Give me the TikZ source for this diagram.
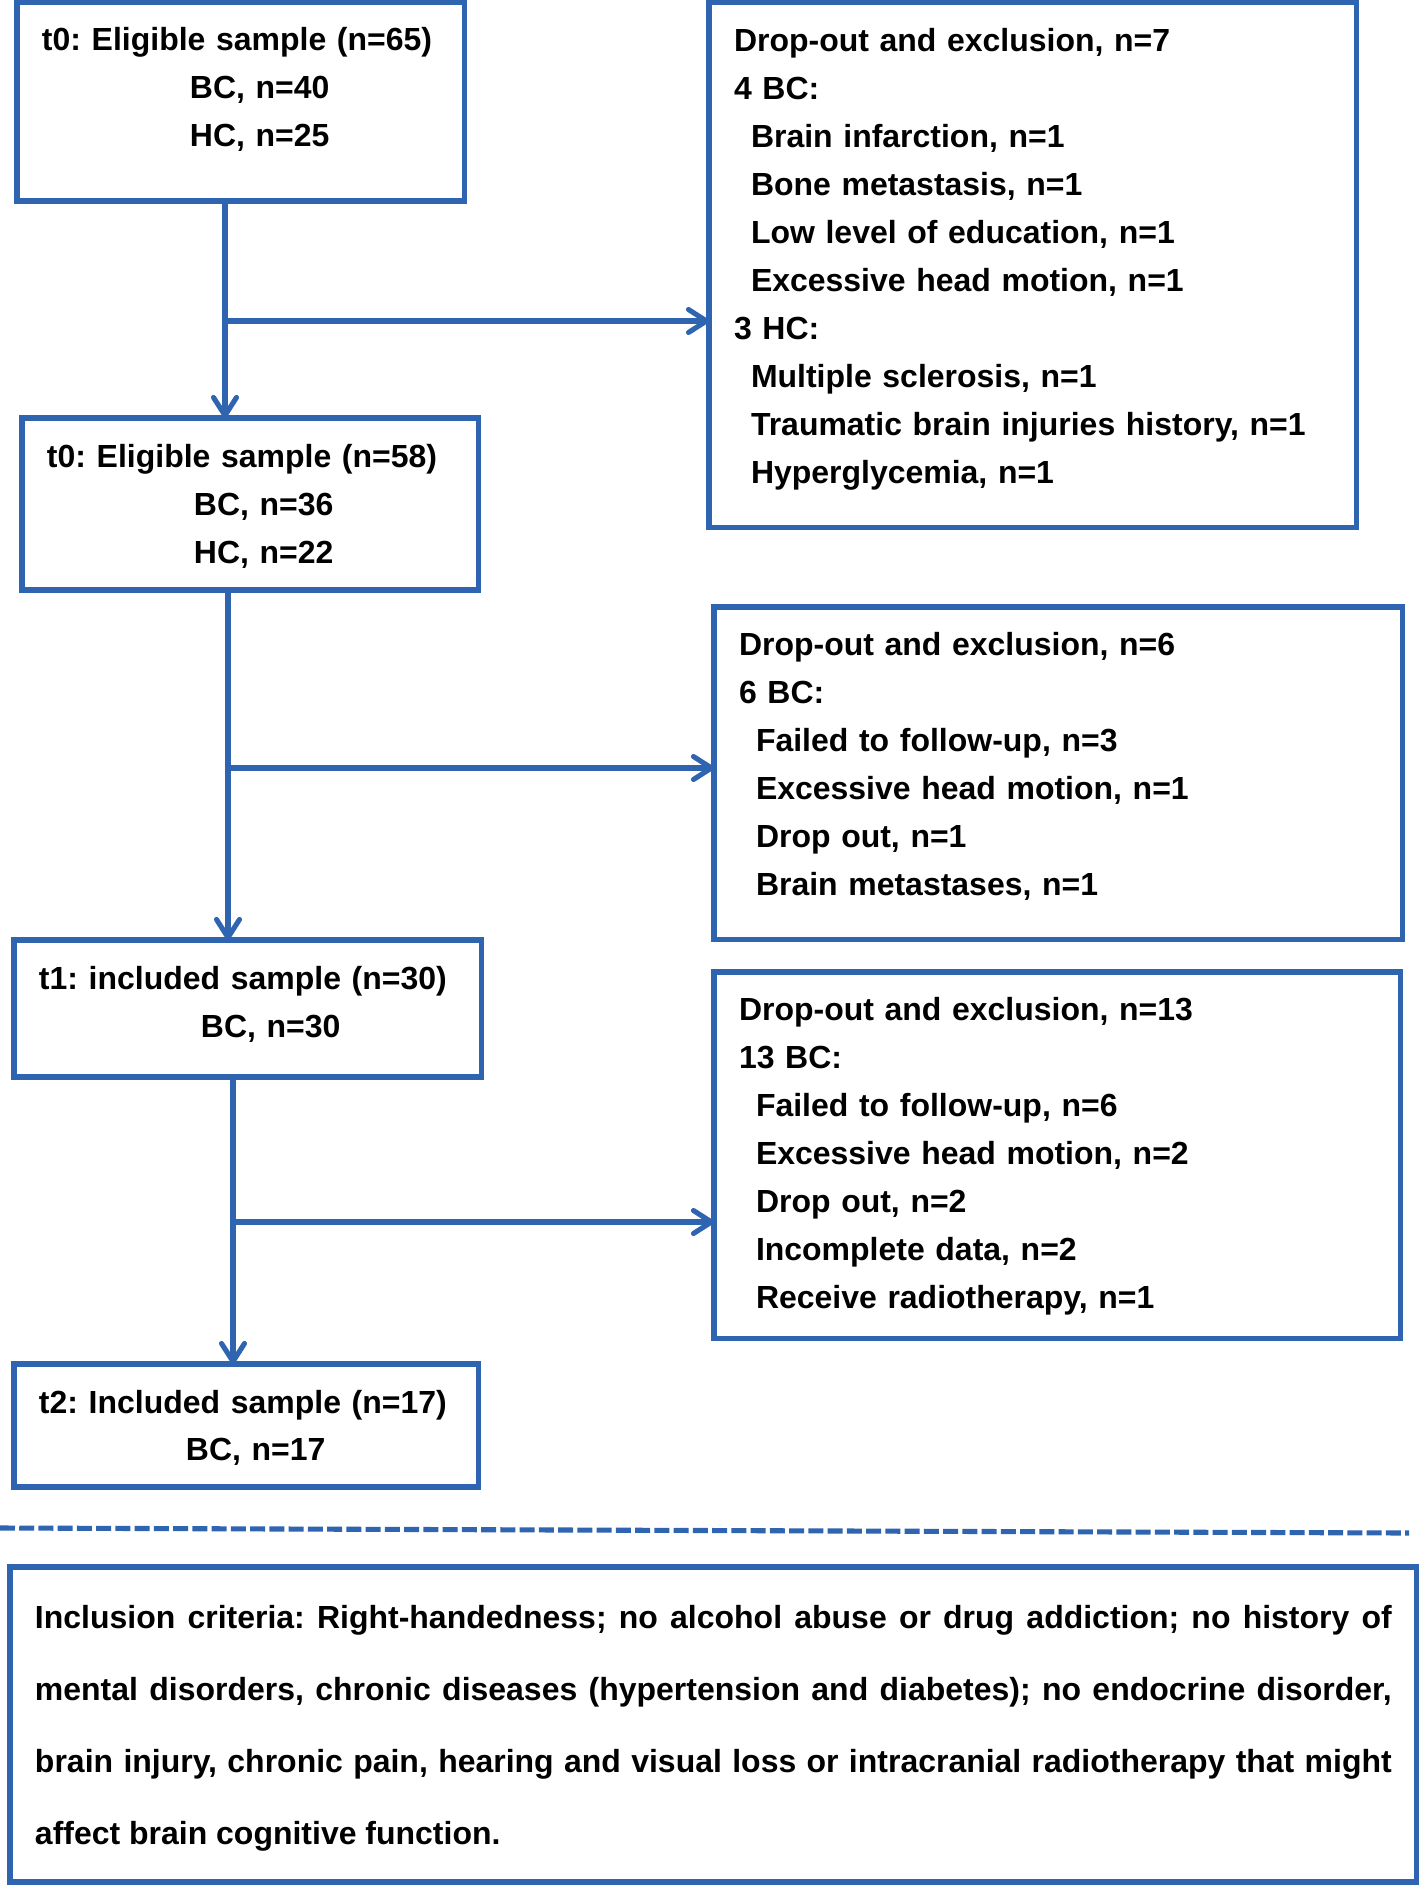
\documentclass[tikz,border=0pt]{standalone}
\usepackage{fontspec}
\setmainfont{Liberation Sans}
\usetikzlibrary{arrows.meta}
\definecolor{flowblue}{RGB}{46,100,176}
\newcommand{\ind}{\hspace*{0.34cm}}
\frenchspacing

\begin{document}
\begin{tikzpicture}[x=0.02cm, y=-0.02cm,
  box/.style={draw=flowblue, line width=2.9pt, fill=white, anchor=north west,
    inner xsep=0.5cm, inner ysep=0pt, outer sep=0pt, align=left,
    font=\fontsize{18.2}{27.3}\selectfont\bfseries},
  link/.style={draw=flowblue, line width=2.9pt},
  arr/.style={link, -{Straight Barb[length=0.36cm,width=0.46cm,round]}}]
\useasboundingbox (0,0) rectangle (1420,1885);
% left column
\node[box, text width=7.96cm, text height=0.98cm, text depth=3.0cm] (t0a) at (17,2)
{t0: Eligible sample (n=65)\\ \hspace*{2.96cm}BC, n=40\\ \hspace*{2.96cm}HC, n=25};
\node[box, text width=8.14cm, text height=1.0cm, text depth=2.44cm] (t0b) at (22,418)
{t0: Eligible sample (n=58)\\ \hspace*{2.94cm}BC, n=36\\ \hspace*{2.94cm}HC, n=22};
\node[box, text width=8.36cm, text height=1.0cm, text depth=1.74cm] (t1) at (14,940)
{t1: included sample (n=30)\\ \hspace*{3.24cm}BC, n=30};
\node[box, text width=8.3cm, text height=0.98cm, text depth=1.48cm] (t2) at (14,1364)
{t2: Included sample (n=17)\\ \hspace*{2.94cm}BC, n=17};
% right column
\node[box, text width=11.96cm, text height=1.0cm, text depth=9.52cm] (drop1) at (709,2)
{Drop-out and exclusion, n=7\\ 4 BC:\\
\ind Brain infarction, n=1\\ \ind Bone metastasis, n=1\\
\ind Low level of education, n=1\\ \ind Excessive head motion, n=1\\
3 HC:\\ \ind Multiple sclerosis, n=1\\
\ind Traumatic brain injuries history, n=1\\ \ind Hyperglycemia, n=1};
\node[box, text width=12.78cm, text height=0.98cm, text depth=5.68cm] (drop2) at (714,607)
{Drop-out and exclusion, n=6\\ 6 BC:\\
\ind Failed to follow-up, n=3\\ \ind Excessive head motion, n=1\\
\ind Drop out, n=1\\ \ind Brain metastases, n=1};
\node[box, text width=12.74cm, text height=0.98cm, text depth=6.36cm] (drop3) at (714,972)
{Drop-out and exclusion, n=13\\ 13 BC:\\
\ind Failed to follow-up, n=6\\ \ind Excessive head motion, n=2\\
\ind Drop out, n=2\\ \ind Incomplete data, n=2\\
\ind Receive radiotherapy, n=1};
% criteria
\node[box, text width=27.14cm, text height=1.22cm, text depth=5.08cm, align=justify,
  font=\fontsize{18.2}{41.1}\selectfont\bfseries] (crit) at (10,1567)
{Inclusion criteria: Right-handedness; no alcohol abuse or drug addiction; no history of\linebreak
mental disorders, chronic diseases (hypertension and diabetes); no endocrine disorder,\linebreak
brain injury, chronic pain, hearing and visual loss or intracranial radiotherapy that might\linebreak
affect brain cognitive function.};
% arrows
\coordinate (j1) at (225,321);
\coordinate (j2) at (228,768);
\coordinate (j3) at (233,1222);
\draw[arr] (t0a.south -| j1) -- (t0b.north -| j1);
\draw[arr] (j1) -- (j1 -| drop1.west);
\draw[arr] (t0b.south -| j2) -- (t1.north -| j2);
\draw[arr] (j2) -- (j2 -| drop2.west);
\draw[arr] (t1.south -| j3) -- (t2.north -| j3);
\draw[arr] (j3) -- (j3 -| drop3.west);
% separator
\coordinate (sepl) at (0,1528);
\coordinate (sepr) at (1409,1533);
\draw[link, dash pattern=on 0.3cm off 0.085cm] (sepl) -- (sepr);
\end{tikzpicture}
\end{document}
